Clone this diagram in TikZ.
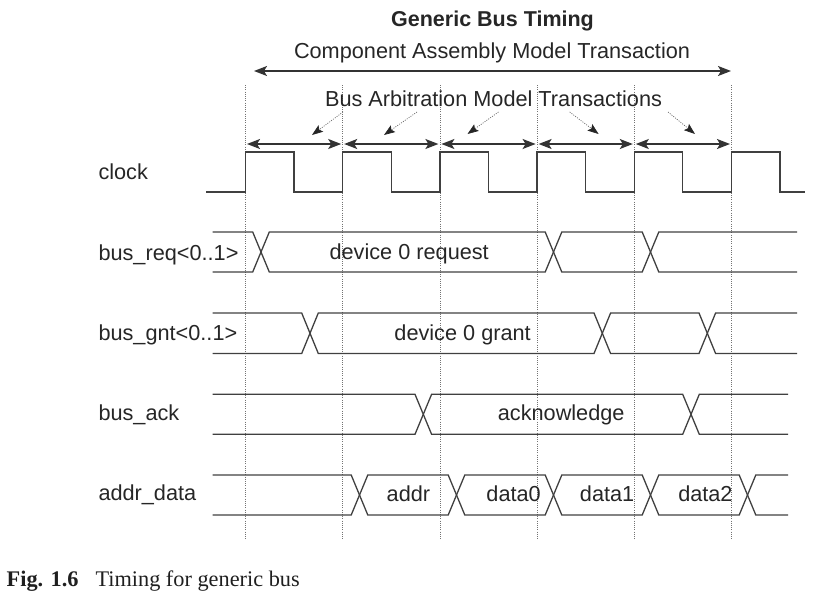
\documentclass[tikz,border=0pt]{standalone}
\usepackage{fontspec}
\setmainfont{Liberation Serif}
\newfontfamily\arialf{Liberation Sans}
\usetikzlibrary{arrows.meta}
\begin{document}
\begin{tikzpicture}[x=1pt,y=-1pt,
  txt/.style={font=\arialf\fontsize{21.7}{25}\selectfont, text=black!85, inner sep=0pt, anchor=base},
  lbl/.style={txt, anchor=base west},
  sig/.style={line width=1.3pt, draw=black!75, line join=miter},
  gridl/.style={draw=black!55, line width=0.6pt, dash pattern=on 0.8pt off 1.4pt},
  dbl/.style={line width=1.5pt, draw=black!80, {Stealth[length=13pt,width=10pt,inset=3pt]}-{Stealth[length=13pt,width=10pt,inset=3pt]}},
  ptr/.style={draw=black!60, line width=0.7pt, dash pattern=on 1pt off 1.3pt, -{Stealth[length=11pt,width=8pt,inset=2pt,color=black!85]}}]
\useasboundingbox (0,0) rectangle (817,595);
% vertical dotted grid lines
\foreach \x [count=\i] in {245.5,342.7,439.9,537.1,634.3,731.5} {
  \coordinate (g\i) at (\x,106);
  \draw[gridl] (\x,85) -- (\x,540);
}
% titles
\node[txt, font=\arialf\bfseries\fontsize{21.5}{25}\selectfont] (title) at (492.5,26) {Generic Bus Timing};
\node[txt] (cam) at (492,58.3) {Component Assembly Model Transaction};
\coordinate (camL) at (254,71);
\coordinate (camR) at (731,71);
\draw[dbl] (camL) -- (camR);
\node[txt] (bam) at (493.5,106) {Bus Arbitration Model Transactions};
% short arrows
\foreach \a/\b [count=\i] in {245.5/342.7,342.7/439.9,439.9/537.1,537.1/634.3,634.3/731.5} {
  \coordinate (sL\i) at (\a+1.5,144);
  \coordinate (sR\i) at (\b-1.5,144);
  \draw[dbl] (sL\i) -- (sR\i);
}
% pointer arrows
\coordinate (p1s) at (343,112);   \coordinate (p1e) at (312,135);
\coordinate (p2s) at (417,112);   \coordinate (p2e) at (384,135);
\coordinate (p3s) at (498.5,112); \coordinate (p3e) at (467.5,134);
\coordinate (p4s) at (569.7,112); \coordinate (p4e) at (598.6,134);
\coordinate (p5s) at (668,112);   \coordinate (p5e) at (695,134);
\foreach \i in {1,...,5} { \draw[ptr] (p\i s) -- (p\i e); }
% labels
\node[lbl] (lclk) at (98.3,179) {clock};
\node[lbl] (lreq) at (98.3,260) {bus\_req<0..1>};
\node[lbl] (lgnt) at (98.3,340) {bus\_gnt<0..1>};
\node[lbl] (lack) at (98.3,420) {bus\_ack};
\node[lbl] (ladr) at (98.3,500) {addr\_data};
% clock
\draw[sig] (206,192) -- (245.5,192) -- (245.5,152) -- (294,152) -- (294,192)
  -- (342.7,192) -- (342.7,152) -- (391.2,152) -- (391.2,192)
  -- (439.9,192) -- (439.9,152) -- (488.4,152) -- (488.4,192)
  -- (537.1,192) -- (537.1,152) -- (585.6,152) -- (585.6,192)
  -- (634.3,192) -- (634.3,152) -- (682.8,152) -- (682.8,192)
  -- (731.5,192) -- (731.5,152) -- (780,152) -- (780,192) -- (804.5,192);
% bus_req
\draw[sig] (212.5,232) -- (252.7,232) -- (269.3,272) -- (545.2,272) -- (561.8,232) -- (642.2,232) -- (658.8,272) -- (797,272);
\draw[sig] (212.5,272) -- (252.7,272) -- (269.3,232) -- (545.2,232) -- (561.8,272) -- (642.2,272) -- (658.8,232) -- (797,232);
\node[txt] (treq) at (409.2,259.5) {device 0 request};
% bus_gnt
\draw[sig] (212.5,313) -- (301.7,313) -- (318.3,353.5) -- (594,353.5) -- (610.6,313) -- (699,313) -- (715.6,353.5) -- (797,353.5);
\draw[sig] (212.5,353.5) -- (301.7,353.5) -- (318.3,313) -- (594,313) -- (610.6,353.5) -- (699,353.5) -- (715.6,313) -- (797,313);
\node[txt] (tgnt) at (462.6,340.3) {device 0 grant};
% bus_ack
\draw[sig] (212.5,394.3) -- (415,394.3) -- (431.6,434.3) -- (682.7,434.3) -- (699.3,394.3) -- (788,394.3);
\draw[sig] (212.5,434.3) -- (415,434.3) -- (431.6,394.3) -- (682.7,394.3) -- (699.3,434.3) -- (788,434.3);
\node[txt] (tack) at (561.2,420.3) {acknowledge};
% addr_data
\draw[sig] (212.5,475) -- (351.2,475) -- (367.8,515) -- (448.2,515) -- (464.8,475) -- (545.2,475) -- (561.8,515) -- (642.2,515) -- (658.8,475) -- (739.2,475) -- (755.8,515) -- (788,515);
\draw[sig] (212.5,515) -- (351.2,515) -- (367.8,475) -- (448.2,475) -- (464.8,515) -- (545.2,515) -- (561.8,475) -- (642.2,475) -- (658.8,515) -- (739.2,515) -- (755.8,475) -- (788,475);
\node[txt] (taddr) at (408.4,501.8) {addr};
\node[txt] (td0) at (513.6,501.8) {data0};
\node[txt] (td1) at (607.1,501.8) {data1};
\node[txt] (td2) at (705.4,501.8) {data2};
% caption
\node[anchor=base west, inner sep=0pt, text=black!88, font=\fontsize{22.3}{26}\selectfont] (cap) at (6.5,586)
  {\textbf{Fig. 1.6}\hspace{17pt}Timing for generic bus};
\end{tikzpicture}
\end{document}
